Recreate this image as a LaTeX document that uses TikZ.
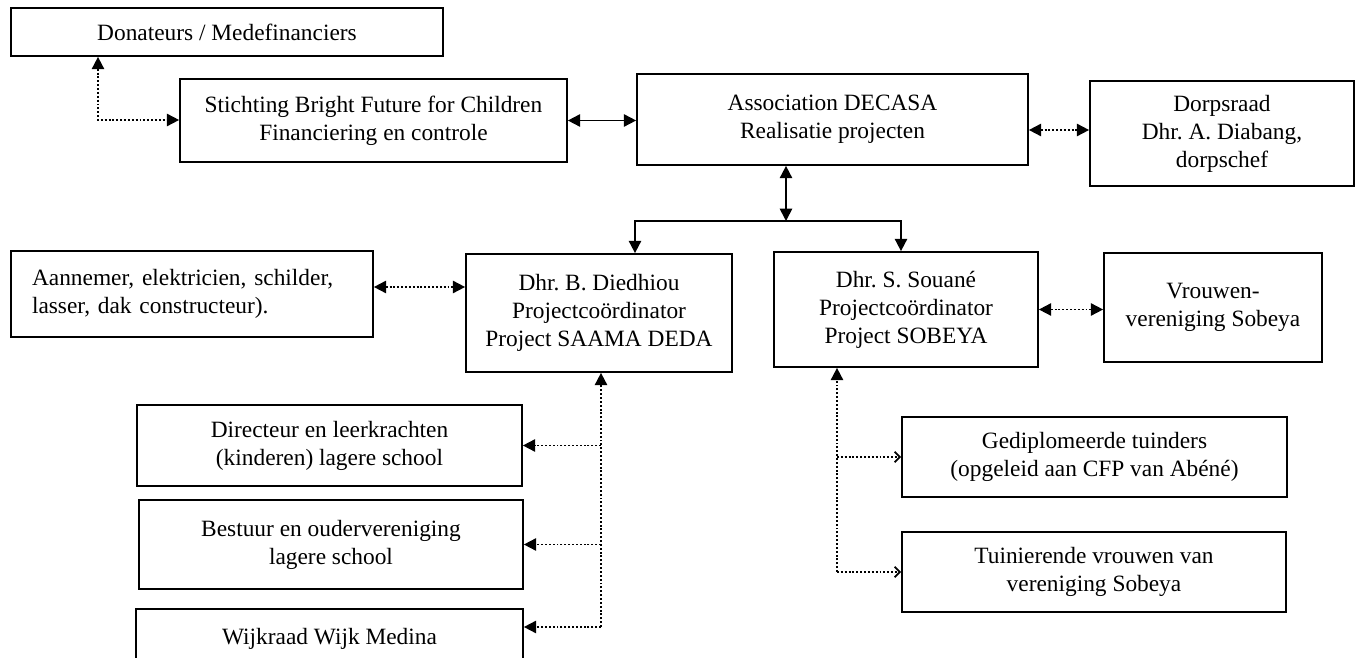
\documentclass[tikz,border=0pt]{standalone}
\usepackage{fontspec}
\setmainfont{Liberation Serif}
\usepackage{tikz}
\usetikzlibrary{positioning}
\usetikzlibrary{arrows.meta}

\begin{document}
\begin{tikzpicture}
    [x=0.02cm, y=-0.02cm,
     font=\fontsize{13.3}{16}\selectfont\frenchspacing,
     box/.style = {draw, line width=1pt, rectangle, align=center, inner sep=2pt},
     both/.style = {{Triangle[length=7pt,width=7pt]}-{Triangle[length=7pt,width=7pt]}, line width=1pt},
     single/.style = {-{Triangle[length=7pt,width=7pt]}, line width=1pt},
     dotboth/.style = {both, dash pattern=on 1.1pt off 1.1pt, line width=1pt},
     dotsingle/.style = {single, dash pattern=on 1.1pt off 1.1pt, line width=1pt},
     dotopen/.style = {-{Straight Barb[length=3pt,width=6pt]}, dash pattern=on 1.1pt off 1.1pt, line width=1pt}]

    \useasboundingbox (0,0) rectangle (1360,658);

    \node[box, minimum width=8.64cm, minimum height=0.96cm] (donateurs) at (227,32) {Donateurs / Medefinanciers};
    \node[box, minimum width=7.74cm, minimum height=1.66cm] (stichting) at (373.5,120.5) {Stichting Bright Future for Children\\Financiering en controle};
    \node[box, minimum width=7.82cm, minimum height=1.82cm] (decasa) at (832.5,119.5) {Association DECASA\\Realisatie projecten};
    \node[box, minimum width=5.28cm, minimum height=2.1cm] (dorpsraad) at (1222,133.5) {Dorpsraad\\Dhr. A. Diabang,\\dorpschef};

    \node[box, text width=6.4cm, inner xsep=0.42cm, minimum height=1.72cm, align=left] (aannemer) at (192,294) {Aannemer, elektricien, schilder,\\lasser, dak constructeur).};
    \node[box, minimum width=5.32cm, minimum height=2.36cm] (diedhiou) at (599,313) {Dhr. B. Diedhiou\\Projectcoördinator\\Project SAAMA DEDA};
    \node[box, minimum width=5.28cm, minimum height=2.3cm] (souane) at (906,309.5) {Dhr. S. Souané\\Projectcoördinator\\Project SOBEYA};
    \node[box, minimum width=4.36cm, minimum height=2.18cm] (vrouwen) at (1213,307.5) {Vrouwen-\\vereniging Sobeya};

    \node[box, minimum width=7.7cm, minimum height=1.62cm] (directeur) at (329.5,445.5) {Directeur en leerkrachten\\(kinderen) lagere school};
    \node[box, minimum width=7.68cm, minimum height=1.78cm] (bestuur) at (331,544.5) {Bestuur en oudervereniging\\lagere school};
    \node[box, minimum width=7.74cm, anchor=north, inner ysep=0pt, text height=0.72cm, text depth=1cm] (wijkraad) at (329.5,608) {Wijkraad Wijk Medina};

    \node[box, minimum width=7.7cm, minimum height=1.6cm] (gediplomeerd) at (1094.5,457) {Gediplomeerde tuinders\\(opgeleid aan CFP van Abéné)};
    \node[box, minimum width=7.68cm, minimum height=1.6cm] (tuinierend) at (1094,572) {Tuinierende vrouwen van\\vereniging Sobeya};

    \coordinate (dbend) at (98,120);
    \coordinate (dlink) at (1060,130);
    \coordinate (split) at (786,221);
    \coordinate (lft) at (635,221);
    \coordinate (rgt) at (901,221);
    \coordinate (alink) at (420,287);
    \coordinate (dtrunk) at (601,627);
    \coordinate (strunk) at (837,572);

    \draw[dotboth] (dbend |- donateurs.south) -- (dbend) -- (dbend -| stichting.west);
    \draw[both] (stichting.east) -- (stichting.east -| decasa.west);
    \draw[dotboth] (dlink -| decasa.east) -- (dlink -| dorpsraad.west);

    \draw[both] (split |- decasa.south) -- (split);
    \draw[single] (split) -- (lft) -- (lft |- diedhiou.north);
    \draw[single] (split) -- (rgt) -- (rgt |- souane.north);

    \draw[dotboth] (alink -| aannemer.east) -- (alink -| diedhiou.west);
    \draw[dotboth] (souane.east) -- (souane.east -| vrouwen.west);

    \draw[dotsingle] (dtrunk) -- (dtrunk |- diedhiou.south);
    \draw[dotsingle] (dtrunk |- directeur.east) -- (directeur.east);
    \draw[dotsingle] (dtrunk |- bestuur.east) -- (bestuur.east);
    \draw[dotsingle] (dtrunk) -- (dtrunk -| wijkraad.east);

    \draw[dotsingle] (strunk) -- (strunk |- souane.south);
    \draw[dotopen] (strunk |- gediplomeerd.west) -- (gediplomeerd.west);
    \draw[dotopen] (strunk) -- (strunk -| tuinierend.west);
\end{tikzpicture}
\end{document}
